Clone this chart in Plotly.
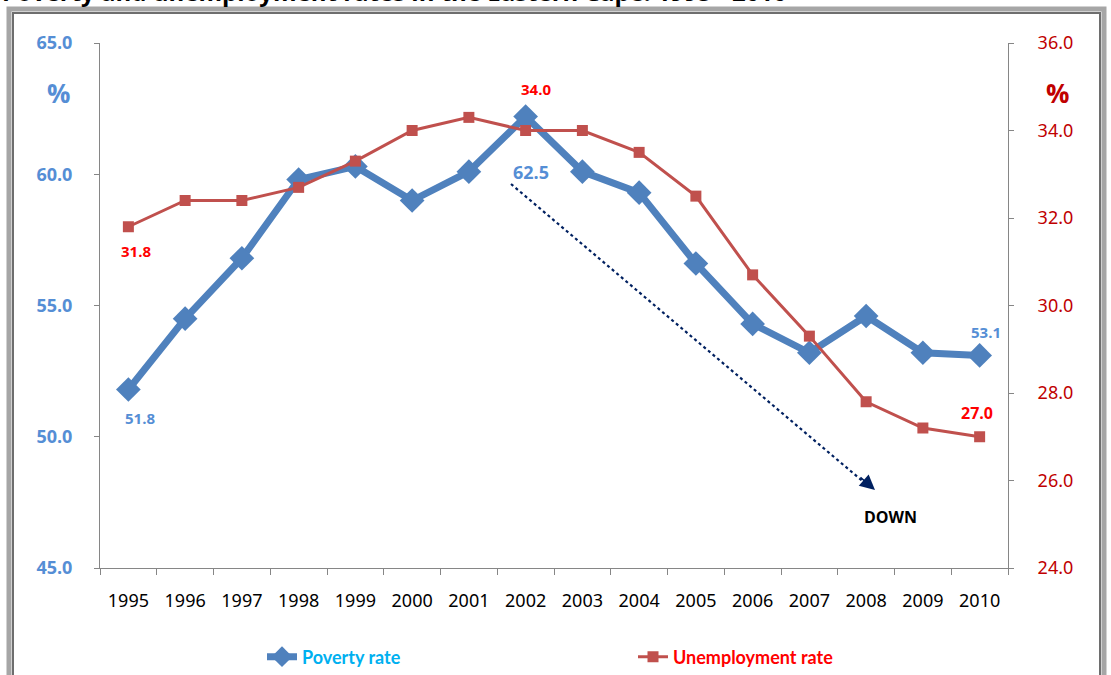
import plotly.graph_objects as go

years = [str(y) for y in range(1995, 2011)]
poverty = [51.8, 54.5, 56.8, 59.8, 60.3, 59.0, 60.1, 62.2, 60.1, 59.3, 56.6, 54.3, 53.2, 54.6, 53.2, 53.1]
unemployment = [31.8, 32.4, 32.4, 32.7, 33.3, 34.0, 34.3, 34.0, 34.0, 33.5, 32.5, 30.7, 29.3, 27.8, 27.2, 27.0]

POV_BLUE = "#4F81BD"
UNEMP_RED = "#C0504D"
L, R, T, B = 100, 103, 43, 107
W, H = 1111, 675
PW, PH = W - L - R, H - T - B

def px(x):
    return (x - L) / PW

def py(y):
    return (H - B - y) / PH

fig = go.Figure()
fig.add_trace(go.Scatter(
    x=years, y=poverty, name="<span style='color:#00B0F0'>Poverty rate</span>",
    mode="lines+markers", line=dict(color=POV_BLUE, width=7),
    marker=dict(symbol="diamond", size=19, color=POV_BLUE), yaxis="y"))
fig.add_trace(go.Scatter(
    x=years, y=unemployment, name="<span style='color:#FF0000'>Unemployment rate</span>",
    mode="lines+markers", line=dict(color=UNEMP_RED, width=3),
    marker=dict(symbol="square", size=11, color=UNEMP_RED), yaxis="y2"))

ann = []
def label(x, y, text, color, size=14, bold=True, xref="x", yref="y", **kw):
    t = f"<b>{text}</b>" if bold else text
    ann.append(dict(x=x, y=y, xref=xref, yref=yref, text=t, showarrow=False,
                    xanchor="center", yanchor="middle",
                    font=dict(color=color, size=size, family="Open Sans"), **kw))

# data labels (placed relative to their points, x as category index)
label(0, poverty[0], "51.8", "#558ED5", 15, True, yshift=-28, xshift=12)
label(0, unemployment[0], "31.8", "#FF0000", 15, True, yref="y2", yshift=-24, xshift=8)
label(7, unemployment[7], "34.0", "#FF0000", 15, True, yref="y2", yshift=42, xshift=10)
label(7, poverty[7], "62.5", "#558ED5", 18, True, yshift=-55, xshift=5)
label(15, poverty[15], "53.1", "#558ED5", 15, True, yshift=23, xshift=6)
label(15, unemployment[15], "27.0", "#FF0000", 16, True, yref="y2", yshift=24, xshift=-3)

# % axis labels
label(px(58), py(93), "%", "#558ED5", 26, True, xref="paper", yref="paper")
label(px(1057), py(93), "%", "#C00000", 26, True, xref="paper", yref="paper")
label(px(890), py(517), "DOWN", "#000000", 16, True, xref="paper", yref="paper")

# title (cut off at top)
ann.append(dict(x=px(0), y=py(-8), xref="paper", yref="paper", xanchor="left", yanchor="middle",
                text="<b>Poverty and unemployment rates in the Eastern Cape: 1995 - 2010</b>",
                showarrow=False, font=dict(color="#000000", size=24, family="Open Sans")))

# arrow head
ann.append(dict(x=px(875), y=py(490), xref="paper", yref="paper", ax=-16, ay=-14,
                showarrow=True, arrowhead=2, arrowsize=2, arrowwidth=1.5, arrowcolor="#002060", text=""))

shapes = [
    dict(type="rect", xref="paper", yref="paper", x0=px(9), x1=px(1104), y0=py(700), y1=py(9),
         line=dict(color="#A6A6A6", width=5), fillcolor="rgba(0,0,0,0)", layer="below"),
    dict(type="rect", xref="paper", yref="paper", x0=px(13), x1=px(1100), y0=py(700), y1=py(13),
         line=dict(color="#6E6E6E", width=2), fillcolor="white", layer="below"),
    dict(type="line", xref="paper", yref="paper", x0=px(511), y0=py(184), x1=px(866), y1=py(484),
         line=dict(color="#002060", width=2.2, dash="dot")),
]

fig.update_layout(
    width=W, height=H, margin=dict(l=L, r=R, t=T, b=B, autoexpand=False),
    paper_bgcolor="white", plot_bgcolor="rgba(0,0,0,0)",
    showlegend=True,
    legend=dict(orientation="h", x=px(262), xanchor="left", y=py(657), yanchor="middle",
                entrywidth=326, entrywidthmode="pixels", itemwidth=30,
                font=dict(size=18, family="Lato", weight="bold"), bgcolor="rgba(0,0,0,0)"),
    xaxis=dict(type="category", showgrid=False, showline=True, linecolor="#868686", linewidth=1,
               ticks="outside", ticklen=6, tickcolor="#868686", tickson="boundaries",
               tickfont=dict(size=18, family="Noto Sans", color="#000000"), ticklabelstandoff=16,
               range=[-0.5, 15.5]),
    yaxis=dict(range=[45, 65], dtick=5, tickformat=".1f", showgrid=False, showline=True,
               linecolor="#868686", ticks="outside", ticklen=5, tickcolor="#868686", zeroline=False,
               tickfont=dict(size=18, family="Open Sans", color="#558ED5", weight="bold"),
               ticklabelstandoff=18),
    yaxis2=dict(range=[24, 36], dtick=2, tickformat=".1f", overlaying="y", side="right",
                showgrid=False, showline=True, linecolor="#868686", ticks="outside", ticklen=5,
                tickcolor="#868686", zeroline=False,
                tickfont=dict(size=18, family="Noto Sans", color="#C00000"), ticklabelstandoff=20),
    annotations=ann, shapes=shapes,
)

fig.write_html("out.html", post_script="document.body.style.margin='0';",
               config={"displayModeBar": False})
